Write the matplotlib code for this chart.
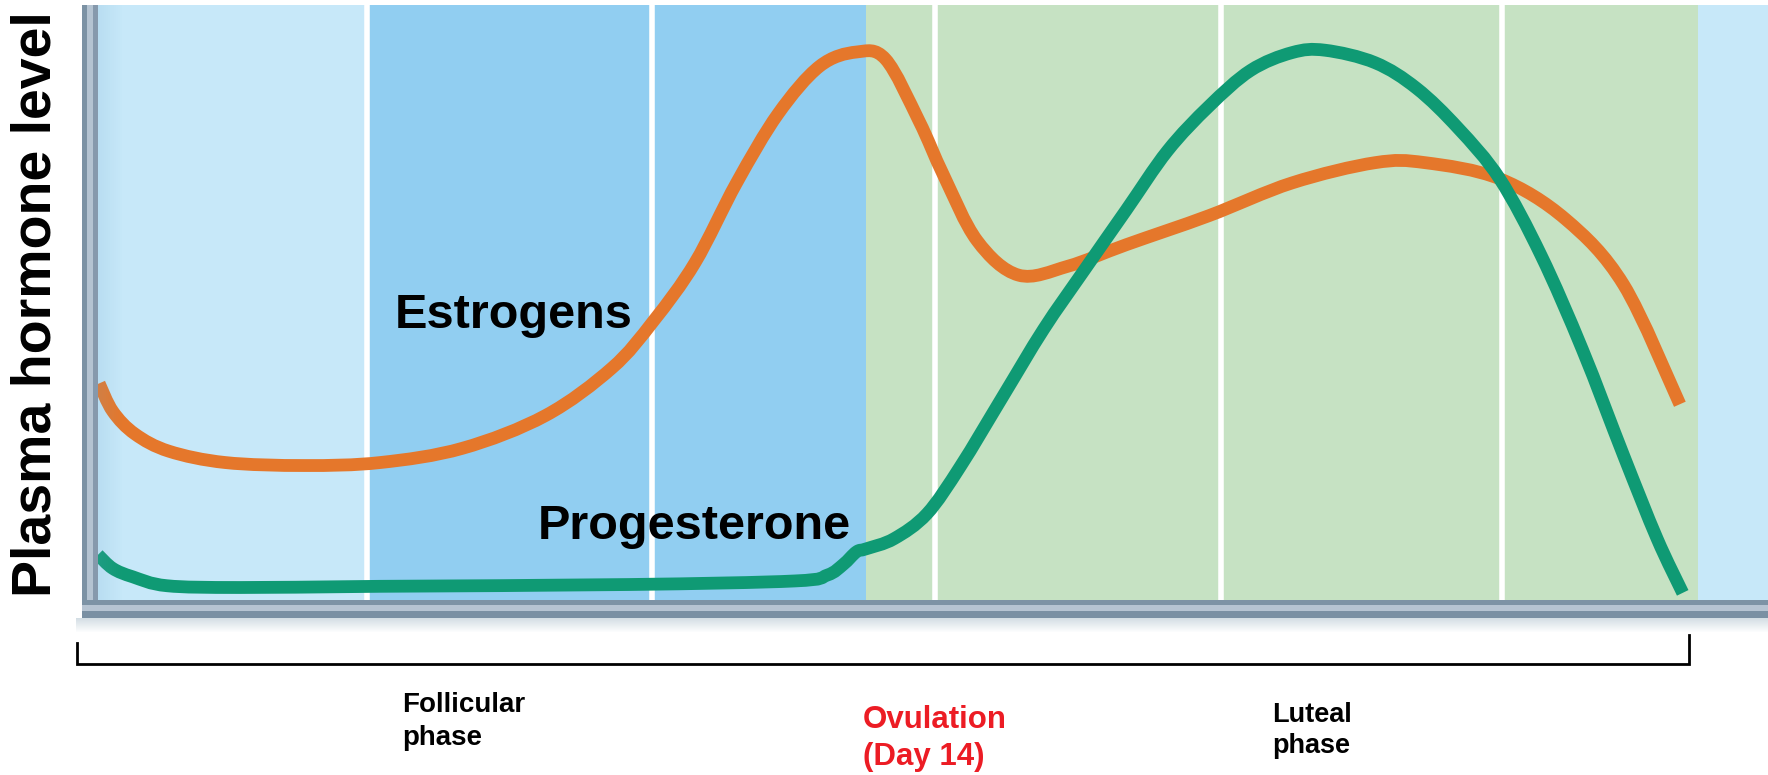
import matplotlib
matplotlib.use("Agg")
import matplotlib.pyplot as plt
from matplotlib.patches import Rectangle, PathPatch
from matplotlib.lines import Line2D
from matplotlib.path import Path

plt.rcParams['font.family'] = ['Liberation Sans', 'DejaVu Sans']

# cycle day / relative plasma level
estrogen_day = [0.51, 0.75, 1.14, 1.74, 2.73, 4.12, 5.45, 6.90, 8.36, 9.53,
                10.26, 10.99, 11.72, 12.45, 13.18, 13.83, 14.34, 14.93, 15.36,
                15.95, 16.68, 17.55, 18.57, 20.03, 21.49, 22.95, 23.83, 25.14,
                26.30, 27.32, 28.31]
estrogen_lvl = [36.4, 31.7, 27.9, 25.0, 23.1, 22.6, 23.1, 25.5, 31.0, 39.0,
                46.9, 56.7, 70.1, 81.7, 89.7, 92.1, 90.9, 80.5, 71.4,
                60.4, 54.6, 56.1, 59.7, 64.6, 70.1, 73.5, 73.5, 70.8,
                64.0, 53.0, 32.9]

progest_day = [0.49, 0.75, 1.10, 1.70, 3.00, 5.45, 9.82, 12.74, 13.32, 13.60,
               13.83, 14.00, 14.49, 15.07, 15.66, 16.39, 17.12, 17.84, 18.57,
               19.30, 20.03, 20.76, 21.49, 22.07, 22.95, 23.68, 24.41, 25.14,
               25.87, 26.60, 27.32, 27.91, 28.36]
progest_lvl = [7.6, 5.3, 3.9, 2.4, 2.1, 2.3, 2.6, 3.2, 4.2, 6.0,
               8.1, 8.6, 10.3, 14.5, 22.5, 34.0, 45.5, 55.5, 65.5,
               75.5, 83.0, 89.0, 92.0, 92.4, 90.3, 86.0, 79.3, 70.8,
               57.9, 42.0, 24.3, 10.3, 1.2]

band_edges = [0.49, 5.22, 14.0, 28.63, 29.86]
band_colors = ['#c7e8f9', '#91cef1', '#c6e2c3', '#c7e8f9']
grid_days = [5.22, 10.23, 15.21, 20.24, 25.18]

W, H = 1768, 775
fig = plt.figure(figsize=(W / 100, H / 100), dpi=100)
fig.patch.set_facecolor('white')


def fig_rect(x, y, w, h, color, alpha=1.0):
    # rectangle given in image pixels (y from top)
    fig.add_artist(Rectangle((x / W, 1 - (y + h) / H), w / W, h / H,
                             transform=fig.transFigure, color=color,
                             alpha=alpha, lw=0))


def fig_line(xs, ys, lw=2.0):
    fig.add_artist(Line2D([x / W for x in xs], [1 - y / H for y in ys],
                          transform=fig.transFigure, color='black', lw=lw,
                          solid_joinstyle='miter'))


def smooth_curve(ax, xs, ys, color, z):
    # curve through the points (catmull-rom drawn as bezier segments)
    pts = list(zip(xs, ys))
    n = len(pts)
    verts = [pts[0]]
    codes = [Path.MOVETO]
    for i in range(n - 1):
        p0 = pts[max(i - 1, 0)]
        p1 = pts[i]
        p2 = pts[i + 1]
        p3 = pts[min(i + 2, n - 1)]
        c1 = (p1[0] + (p2[0] - p0[0]) / 6, p1[1] + (p2[1] - p0[1]) / 6)
        c2 = (p2[0] - (p3[0] - p1[0]) / 6, p2[1] - (p3[1] - p1[1]) / 6)
        verts += [c1, c2, p2]
        codes += [Path.CURVE4] * 3
    ax.add_patch(PathPatch(Path(verts, codes), fill=False, edgecolor=color,
                           lw=9.2, capstyle='butt', joinstyle='round',
                           zorder=z))


ax = fig.add_axes([98 / W, 1 - 600 / H, (W - 98) / W, 595 / H])
ax.set_xlim(band_edges[0], band_edges[-1])
ax.set_ylim(0, 100)
ax.axis('off')

for i, c in enumerate(band_colors):
    ax.axvspan(band_edges[i], band_edges[i + 1], color=c, lw=0, zorder=0)
for d in grid_days:
    ax.axvline(d, color='white', lw=4, zorder=1)

smooth_curve(ax, estrogen_day, estrogen_lvl, '#e5772b', 3)
smooth_curve(ax, progest_day, progest_lvl, '#0f9a74', 4)

ax.text(5.71, 45.7, 'Estrogens', fontsize=35, fontweight='bold',
        va='baseline', ha='left', zorder=5)
ax.text(8.22, 10.25, 'Progesterone', fontsize=35, fontweight='bold',
        va='baseline', ha='left', zorder=5)

# soft shadow inside the plot next to the left frame
for k in range(12):
    fig_rect(98 + k * 2, 5, 2, 595, '#6fa9c9', alpha=0.16 * (1 - k / 12))

# 3d-looking frame
fig_rect(82, 5, 5, 613, '#7c92a4')
fig_rect(87, 5, 6, 613, '#b4c3d1')
fig_rect(93, 5, 5, 595, '#8699ac')
fig_rect(82, 600, W - 82, 5, '#7d93a5')
fig_rect(82, 605, W - 82, 6, '#b6c4d2')
fig_rect(82, 611, W - 82, 7, '#7a90a3')
for k in range(14):
    fig_rect(76, 618 + k, W - 76, 1, '#c9d6de', alpha=0.8 * (1 - k / 14))
fig_rect(0, 0, W, 5, 'white')

# phase bracket
fig_line([77, 77, 1689, 1689], [643, 664, 664, 635], lw=2.0)

fig.text(37 / W, 1 - 304 / H, 'Plasma hormone level', rotation=90,
         fontsize=40, fontweight='bold', ha='center', va='center')

fig.text(402 / W, 1 - 712 / H, 'Follicular', fontsize=20, fontweight='bold',
         va='baseline')
fig.text(402 / W, 1 - 745 / H, 'phase', fontsize=20, fontweight='bold',
         va='baseline')
fig.text(863 / W, 1 - 728 / H, 'Ovulation', fontsize=22.5, fontweight='bold',
         color='#ec1c24', va='baseline')
fig.text(863 / W, 1 - 765 / H, '(Day 14)', fontsize=22.5, fontweight='bold',
         color='#ec1c24', va='baseline')
fig.text(1272 / W, 1 - 722 / H, 'Luteal', fontsize=19.5, fontweight='bold',
         va='baseline')
fig.text(1272 / W, 1 - 753 / H, 'phase', fontsize=19.5, fontweight='bold',
         va='baseline')

fig.savefig('out.png', dpi=100)
plt.close(fig)
